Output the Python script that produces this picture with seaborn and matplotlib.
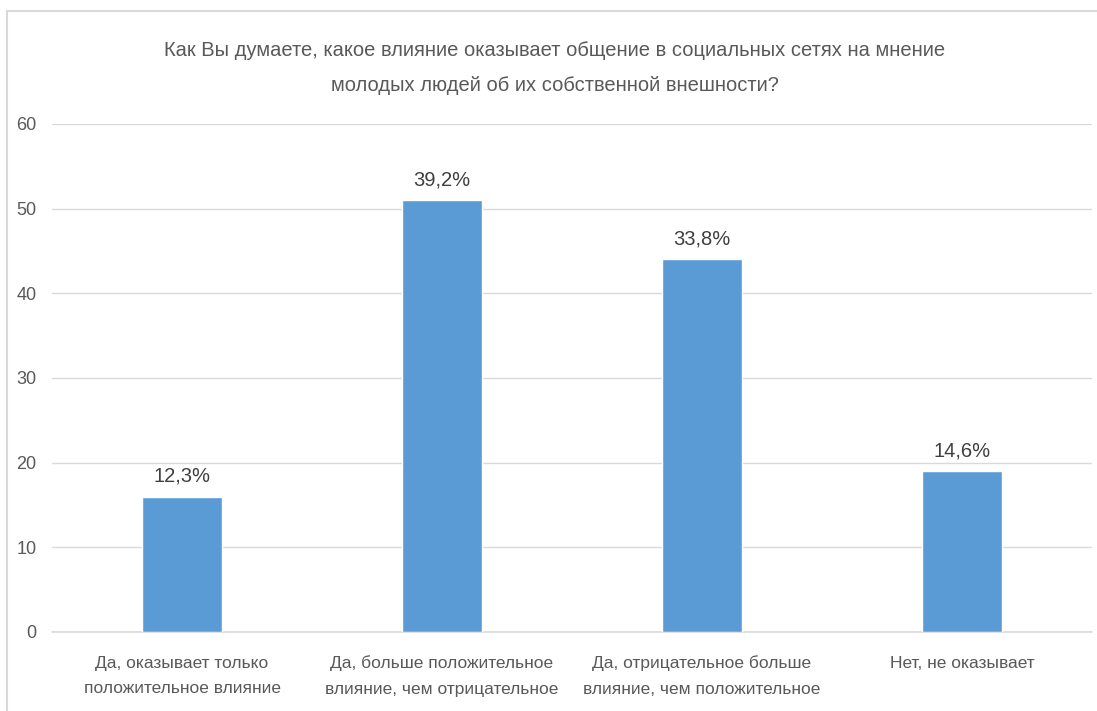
import matplotlib
matplotlib.use("Agg")
import matplotlib.pyplot as plt
import matplotlib.lines as mlines
import seaborn as sns
import pandas as pd

# Survey answers and respondent counts
categories = [
    "Да, оказывает только\nположительное влияние",
    "Да, больше положительное\nвлияние, чем отрицательное",
    "Да, отрицательное больше\nвлияние, чем положительное",
    "Нет, не оказывает",
]
counts = [16, 51, 44, 19]
y_ticks = [0, 10, 20, 30, 40, 50, 60]
title = ("Как Вы думаете, какое влияние оказывает общение в социальных сетях на мнение\n"
         "молодых людей об их собственной внешности?")

sns.set_theme(style="white")
plt.rcParams["font.family"] = ["Liberation Sans", "DejaVu Sans"]

df = pd.DataFrame({"answer": categories, "count": counts})
total = sum(counts)

fig = plt.figure(figsize=(10.97, 7.11), dpi=100)
W, H = 1097, 711
ax = fig.add_axes([52 / W, 1 - 632 / H, (1092 - 52) / W, (632 - 124) / H])

sns.barplot(data=df, x="answer", y="count", color="#5B9BD5", saturation=1,
            width=0.31, ax=ax, zorder=3)

ax.set_ylim(0, 60)
ax.set_xlim(-0.5, len(categories) - 0.5)
ax.set_yticks(y_ticks)
ax.set_yticklabels([str(t) for t in y_ticks], fontsize=13, color="#595959")
ax.tick_params(axis="y", length=0, pad=11)
ax.tick_params(axis="x", length=0, pad=17)
for lbl in ax.get_xticklabels():
    lbl.set_fontsize(12.5)
    lbl.set_color("#595959")
    lbl.set_linespacing(1.9)
ax.set_xlabel("")
ax.set_ylabel("")
ax.grid(axis="y", color="#D9D9D9", linewidth=1, zorder=0)
ax.axhline(0, color="#D9D9D9", linewidth=1.2, zorder=2, clip_on=False)
for s in ax.spines.values():
    s.set_visible(False)

# Percentage labels above each bar
for i, v in enumerate(counts):
    pct = f"{v / total * 100:.1f}%".replace(".", ",")
    ax.annotate(pct, (i, v), xytext=(0, 8), textcoords="offset points",
                ha="center", va="bottom", fontsize=14.5, color="#404040")

fig.text(555 / W, 1 - 68 / H, title, ha="center", va="center", fontsize=14.5,
         color="#595959", linespacing=2.05)

# Chart frame
fig.add_artist(mlines.Line2D([7 / W, 7 / W], [0, 1 - 11 / H], color="#D9D9D9", lw=1.5))
fig.add_artist(mlines.Line2D([7 / W, 1], [1 - 11 / H, 1 - 11 / H], color="#D9D9D9", lw=1.5))

fig.savefig("out.png", dpi=100)
